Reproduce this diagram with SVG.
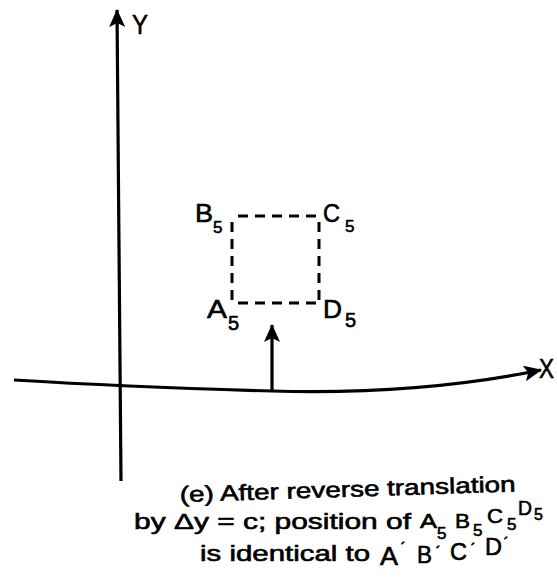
<svg xmlns="http://www.w3.org/2000/svg" width="557" height="579" viewBox="0 0 557 579">
<style>
.ax{fill:none;stroke:#000;stroke-width:3.2;stroke-linecap:butt}
.dash{fill:none;stroke:#000;stroke-width:3;stroke-dasharray:10 7}
.t{font-family:"Liberation Sans",Arial,sans-serif;fill:#000;stroke:#000;stroke-width:0.6}
.pr{font-family:"Liberation Sans",Arial,sans-serif;fill:#000;stroke:#000;stroke-width:0.8;font-size:13px}
</style>
<defs>
<marker id="ah" viewBox="0 0 18 16" refX="17" refY="8" markerWidth="18" markerHeight="16" markerUnits="userSpaceOnUse" orient="auto">
<path d="M0,0 L18,8 L0,16 L4,8 Z" fill="#000"/>
</marker>
</defs>
<rect width="557" height="579" fill="#fff"/>
<g id="connectors">
<line id="y-axis" class="ax" x1="121" y1="481" x2="117" y2="10" marker-end="url(#ah)"/>
<path id="x-axis" class="ax" d="M14,380 Q130,387 272,391 Q420,395 541,370" marker-end="url(#ah)"/>
<line id="translate-arrow" class="ax" x1="272" y1="391" x2="272" y2="325" marker-end="url(#ah)"/>
</g>
<g id="axis-labels">
<text class="t" x="132" y="34" font-size="28" textLength="16" lengthAdjust="spacingAndGlyphs">Y</text>
<text class="t" x="539" y="378" font-size="27" textLength="15" lengthAdjust="spacingAndGlyphs">X</text>
</g>
<g id="square">
<line class="dash" x1="238" y1="216" x2="319" y2="216"/>
<line class="dash" x1="232" y1="222" x2="232" y2="303"/>
<line class="dash" x1="319" y1="222" x2="319" y2="303"/>
<line class="dash" x1="238" y1="303" x2="319" y2="303"/>
</g>
<g id="B5"><text class="t" x="195" y="222" font-size="25" textLength="18" lengthAdjust="spacingAndGlyphs">B</text><text class="t" x="213" y="233" font-size="17">5</text></g>
<g id="C5"><text class="t" x="323" y="222" font-size="25" textLength="17" lengthAdjust="spacingAndGlyphs">C</text><text class="t" x="345" y="232" font-size="17">5</text></g>
<g id="A5"><text class="t" x="207" y="318" font-size="26" textLength="20" lengthAdjust="spacingAndGlyphs">A</text><text class="t" x="228" y="330" font-size="20">5</text></g>
<g id="D5"><text class="t" x="323" y="318" font-size="26" textLength="19" lengthAdjust="spacingAndGlyphs">D</text><text class="t" x="345" y="327" font-size="20">5</text></g>
<g id="caption">
<text class="t" x="180" y="502" font-size="22" textLength="336" lengthAdjust="spacingAndGlyphs" transform="rotate(-1.8 180 502)">(e) After reverse translation</text>
<text class="t" x="134" y="529" font-size="22" textLength="277" lengthAdjust="spacingAndGlyphs">by Δy = c; position of</text>
<text class="t" x="420" y="528" font-size="21" textLength="17" lengthAdjust="spacingAndGlyphs">A</text><text class="t" x="437" y="539" font-size="17">5</text>
<text class="t" x="455" y="528" font-size="21" textLength="15" lengthAdjust="spacingAndGlyphs">B</text><text class="t" x="473" y="536" font-size="17">5</text>
<text class="t" x="487" y="523" font-size="21" textLength="16" lengthAdjust="spacingAndGlyphs">C</text><text class="t" x="507" y="530" font-size="17">5</text>
<text class="t" x="518" y="515" font-size="20" textLength="14" lengthAdjust="spacingAndGlyphs">D</text><text class="t" x="534" y="520" font-size="16">5</text>
<text class="t" x="200" y="561" font-size="22" textLength="170" lengthAdjust="spacingAndGlyphs">is identical to</text>
<text class="t" x="380" y="565" font-size="25" textLength="18" lengthAdjust="spacingAndGlyphs">A</text><text class="pr" x="401" y="552">´</text>
<text class="t" x="417" y="563" font-size="24" textLength="15" lengthAdjust="spacingAndGlyphs">B</text><text class="pr" x="436" y="556">´</text>
<text class="t" x="450" y="560" font-size="24" textLength="17" lengthAdjust="spacingAndGlyphs">C</text><text class="pr" x="471" y="553">´</text>
<text class="t" x="485" y="555" font-size="24" textLength="17" lengthAdjust="spacingAndGlyphs">D</text><text class="pr" x="504" y="547">´</text>
</g>
</svg>
